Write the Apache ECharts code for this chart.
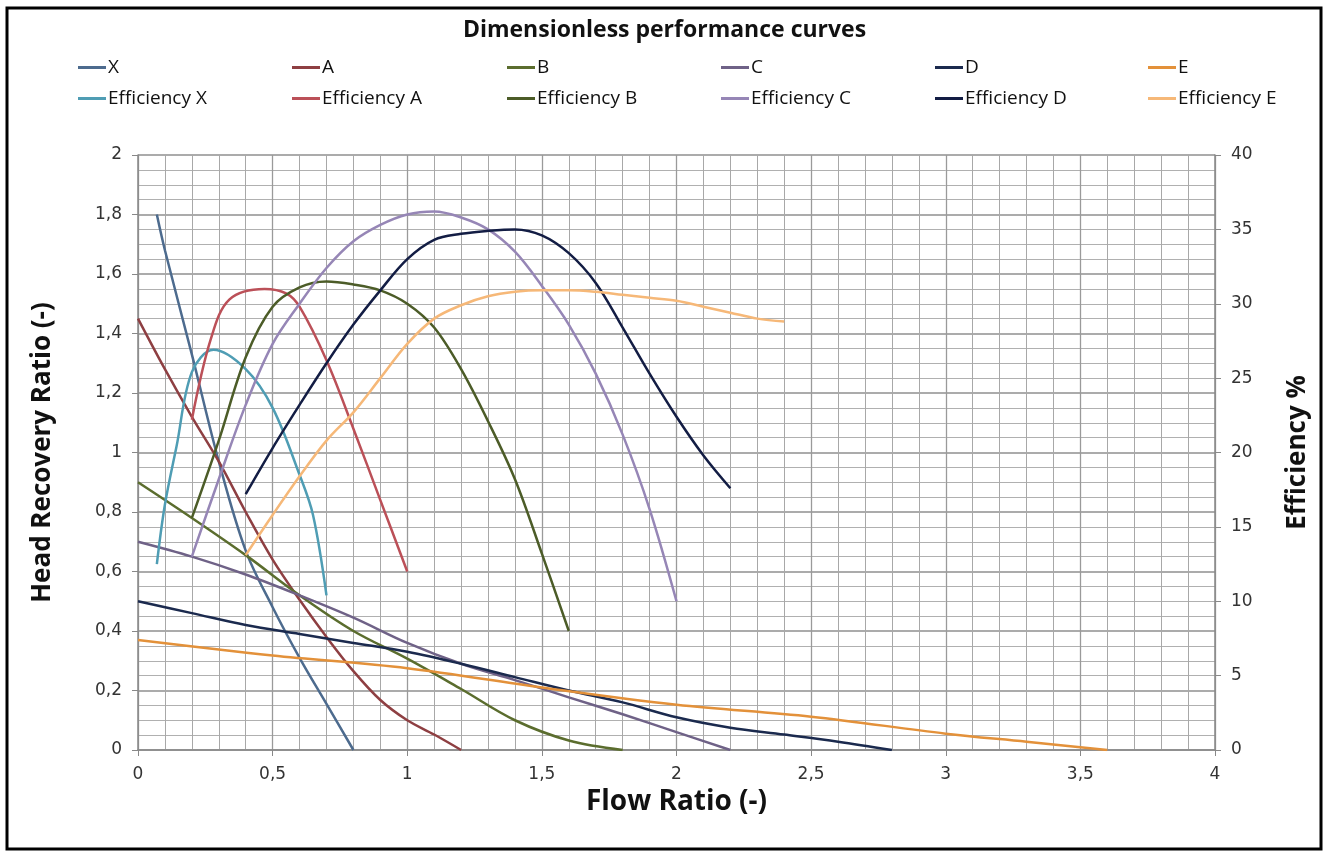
<!DOCTYPE html>
<html>
<head>
<meta charset="utf-8">
<script src="https://cdn.jsdelivr.net/npm/echarts@6/dist/echarts.min.js"></script>
<style>
  html,body{margin:0;padding:0;background:#fff;}
  #main{width:1329px;height:856px;}
</style>
</head>
<body>
<div id="main"></div>
<script>
// head recovery ratio curves, [flow ratio, head ratio]
var headX = [[0.07,1.8],[0.1,1.68],[0.2,1.33],[0.3,0.97],[0.4,0.67],[0.5,0.48],[0.6,0.31],[0.7,0.155],[0.8,0]];
var headA = [[0,1.45],[0.1,1.28],[0.2,1.12],[0.3,0.97],[0.4,0.8],[0.5,0.64],[0.6,0.505],[0.7,0.38],[0.8,0.265],[0.9,0.168],[1.0,0.1],[1.1,0.052],[1.2,0]];
var headB = [[0,0.9],[0.2,0.78],[0.4,0.655],[0.6,0.52],[0.8,0.4],[1.0,0.307],[1.2,0.205],[1.4,0.1],[1.6,0.032],[1.8,0]];
var headC = [[0,0.7],[0.2,0.65],[0.4,0.59],[0.6,0.52],[0.8,0.445],[1.0,0.36],[1.2,0.29],[1.4,0.235],[1.6,0.177],[1.8,0.12],[2.0,0.06],[2.2,0]];
var headD = [[0,0.5],[0.2,0.46],[0.4,0.42],[0.6,0.39],[0.8,0.36],[1.0,0.33],[1.2,0.29],[1.4,0.245],[1.6,0.2],[1.8,0.16],[2.0,0.11],[2.2,0.075],[2.4,0.052],[2.6,0.028],[2.8,0]];
var headE = [[0,0.37],[0.5,0.318],[1.0,0.275],[1.5,0.21],[2.0,0.152],[2.5,0.112],[3.0,0.055],[3.3,0.028],[3.6,0]];

// efficiency curves, [flow ratio, efficiency %]
var effX = [[0.07,12.5],[0.1,16.5],[0.143,20.4],[0.2,25.4],[0.28,26.9],[0.4,25.6],[0.5,23],[0.6,18.5],[0.65,15.8],[0.7,10.4]];
var effA = [[0.2,22.2],[0.27,27.6],[0.34,30.3],[0.47,31],[0.55,30.7],[0.6,29.8],[0.7,26.2],[0.8,21.6],[0.9,16.8],[1.0,12]];
var effB = [[0.2,15.6],[0.3,20.8],[0.4,26.4],[0.5,29.8],[0.6,31.1],[0.7,31.5],[0.8,31.3],[0.9,30.9],[1.0,30],[1.1,28.4],[1.2,25.6],[1.3,22.1],[1.4,18.2],[1.5,13.2],[1.6,8]];
var effC = [[0.2,13],[0.3,18.2],[0.4,23.2],[0.5,27.3],[0.6,30],[0.7,32.4],[0.8,34.2],[0.9,35.3],[1.0,36],[1.1,36.2],[1.2,35.8],[1.3,35],[1.4,33.5],[1.5,31.2],[1.6,28.6],[1.7,25.3],[1.8,21.2],[1.9,16.2],[2.0,10]];
var effD = [[0.4,17.2],[0.5,20.3],[0.6,23.2],[0.7,26],[0.8,28.6],[0.9,30.9],[1.0,33],[1.1,34.3],[1.2,34.7],[1.3,34.9],[1.4,35],[1.5,34.6],[1.6,33.4],[1.7,31.4],[1.8,28.4],[1.9,25.3],[2.0,22.4],[2.1,19.8],[2.2,17.6]];
var effE = [[0.4,13.1],[0.5,15.8],[0.6,18.4],[0.7,20.8],[0.8,22.7],[0.9,25],[1.0,27.3],[1.1,29],[1.2,29.9],[1.3,30.5],[1.4,30.8],[1.5,30.9],[1.6,30.9],[1.7,30.8],[1.8,30.6],[1.9,30.4],[2.0,30.2],[2.1,29.8],[2.2,29.4],[2.3,29],[2.4,28.8]];

var headNames = ['X','A','B','C','D','E'];
var effNames = ['Efficiency X','Efficiency A','Efficiency B','Efficiency C','Efficiency D','Efficiency E'];
var headData = [headX, headA, headB, headC, headD, headE];
var effData = [effX, effA, effB, effC, effD, effE];
var headColors = ['#4d6b8e','#8e3f42','#5b6d2e','#6f6287','#1b2a4e','#e3913a'];
var effColors = ['#4f9db4','#bb5058','#4c5c28','#9686b6','#131d44','#f6b878'];

var comma = function(v){ return String(+v.toFixed(2)).replace('.', ','); };

var series = [], legends = [];
var colX = [73, 287, 502, 716, 930, 1143];
headNames.forEach(function(n, i){
    series.push({name:n, type:'line', data:headData[i], yAxisIndex:0, smooth:0.35,
        symbol:'none', lineStyle:{width:2.5, color:headColors[i]}, itemStyle:{color:headColors[i]}});
    legends.push({data:[n], left:colX[i], top:53});
});
effNames.forEach(function(n, i){
    series.push({name:n, type:'line', data:effData[i], yAxisIndex:1, smooth:0.35,
        symbol:'none', lineStyle:{width:2.5, color:effColors[i]}, itemStyle:{color:effColors[i]}});
    legends.push({data:[n], left:colX[i], top:84});
});
legends.forEach(function(l){
    l.icon = 'rect'; l.itemWidth = 28; l.itemHeight = 3; l.itemGap = 0;
    l.textStyle = {fontFamily:'Open Sans', fontSize:19, color:'#111', padding:[0,0,0,-3]};
    l.selectedMode = false;
});

var nameFont = {fontFamily:'Open Sans', fontWeight:'bold', fontSize:26, color:'#111'};

var myChart = echarts.init(document.getElementById('main'));
var option = {
    backgroundColor:'#fff',
    animation:false,
    title:{
        text:'Dimensionless performance curves', left:'center', top:14,
        textStyle:{fontFamily:'Open Sans', fontWeight:'bold', fontSize:23, color:'#111'}
    },
    legend: legends,
    graphic:[{type:'rect', shape:{x:7, y:8, width:1314, height:841},
        style:{fill:null, stroke:'#000', lineWidth:3}, silent:true}],
    grid:{left:138, right:114, top:155, bottom:106},
    xAxis:{
        type:'value', min:0, max:4, interval:0.5,
        name:'Flow Ratio (-)', nameLocation:'middle', nameGap:33,
        nameTextStyle:{fontFamily:'Open Sans', fontWeight:'bold', fontSize:28, color:'#111'},
        axisLine:{lineStyle:{color:'#888', width:1.5}},
        axisTick:{show:true, length:6, lineStyle:{color:'#888'}},
        axisLabel:{fontFamily:'DejaVu Sans', fontSize:17, color:'#333', margin:16, formatter:comma},
        splitLine:{lineStyle:{color:'#9a9a9a', width:1.3}},
        minorTick:{show:false, splitNumber:5},
        minorSplitLine:{show:true, lineStyle:{color:'#a8a8a8', width:1}}
    },
    yAxis:[{
        type:'value', min:0, max:2, interval:0.2,
        name:'Head Recovery Ratio (-)', nameLocation:'middle', nameGap:82,
        nameTextStyle:nameFont,
        axisLine:{show:true, lineStyle:{color:'#888', width:1.5}},
        axisTick:{show:true, length:6, lineStyle:{color:'#888'}},
        axisLabel:{fontFamily:'DejaVu Sans', fontSize:17, color:'#333', margin:16, formatter:comma},
        splitLine:{lineStyle:{color:'#8f8f8f', width:1.5}},
        minorTick:{show:false, splitNumber:4},
        minorSplitLine:{show:true, lineStyle:{color:'#b0b0b0', width:1}}
    },{
        type:'value', min:0, max:40, interval:5, position:'right',
        name:'Efficiency %', nameLocation:'middle', nameGap:70,
        nameTextStyle:nameFont,
        axisLine:{show:true, lineStyle:{color:'#888', width:1.5}},
        axisTick:{show:true, length:6, lineStyle:{color:'#888'}},
        axisLabel:{fontFamily:'DejaVu Sans', fontSize:17, color:'#333', margin:16},
        splitLine:{show:false}
    }],
    series: series
};
myChart.setOption(option);
</script>
</body>
</html>
